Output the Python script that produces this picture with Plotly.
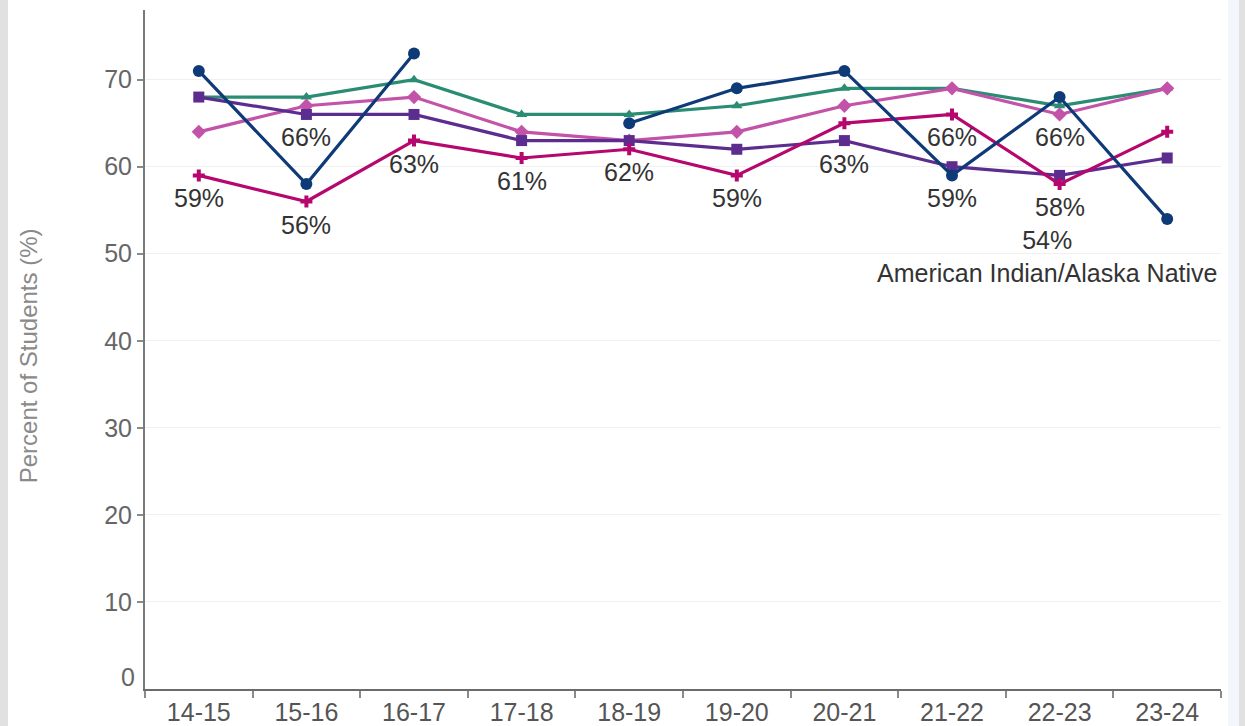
import plotly.graph_objects as go

years = ["14-15", "15-16", "16-17", "17-18", "18-19", "19-20", "20-21", "21-22", "22-23", "23-24"]

teal_vals = [68, 68, 70, 66, 66, 67, 69, 69, 67, 69]
pink_vals = [64, 67, 68, 64, 63, 64, 67, 69, 66, 69]
purple_vals = [68, 66, 66, 63, 63, 62, 63, 60, 59, 61]
magenta_vals = [59, 56, 63, 61, 62, 59, 65, 66, 58, 64]
navy_vals = [71, 58, 73, None, 65, 69, 71, 59, 68, 54]

y_ticks = [10, 20, 30, 40, 50, 60, 70]
y_title = "Percent of Students (%)"
navy_name = "American Indian/Alaska Native"

# data labels: (series key, category index)
label_points = [
    ("magenta", 0), ("purple", 1), ("magenta", 1), ("magenta", 2), ("magenta", 3),
    ("magenta", 4), ("magenta", 5), ("purple", 6), ("magenta", 7), ("navy", 7),
    ("pink", 8), ("magenta", 8),
]

series = {
    "teal": dict(vals=teal_vals, color="#2b8c74", symbol="triangle-up", size=10, name="Series A"),
    "pink": dict(vals=pink_vals, color="#c253a8", symbol="diamond", size=11, name="Series B"),
    "purple": dict(vals=purple_vals, color="#5c2d8f", symbol="square", size=11, name="Series C"),
    "magenta": dict(vals=magenta_vals, color="#b5076e", symbol="cross", size=10, name="Series D"),
    "navy": dict(vals=navy_vals, color="#0e3a78", symbol="circle", size=12, name=navy_name),
}

FONT = "Arial, Liberation Sans, sans-serif"
FS = 25
fig = go.Figure()
for key in ["teal", "pink", "purple", "magenta", "navy"]:
    s = series[key]
    fig.add_trace(go.Scatter(
        x=years, y=s["vals"], mode="lines+markers", name=s["name"],
        line=dict(color=s["color"], width=3.2),
        marker=dict(color=s["color"], symbol=s["symbol"], size=s["size"], line=dict(width=0)),
        connectgaps=False, showlegend=False,
    ))

annotations = []
for key, i in label_points:
    v = series[key]["vals"][i]
    annotations.append(dict(
        x=years[i], y=v, xref="x", yref="y", text=f"{v}%", showarrow=False,
        yshift=-23, yanchor="middle", xanchor="center",
        font=dict(family=FONT, size=FS, color="#333333"),
    ))

# last navy point with series name
last_v = navy_vals[-1]
annotations.append(dict(
    x=years[-1], y=last_v, xref="x", yref="y",
    text=f"{last_v}%<br>{navy_name}", showarrow=False, align="center",
    xanchor="right", xshift=52, yanchor="middle", yshift=-38,
    font=dict(family=FONT, size=FS, color="#333333"),
))

# zero label (drawn slightly above the axis line as in the original)
annotations.append(dict(
    x=0, y=0, xref="paper", yref="y", text="0", showarrow=False,
    xanchor="right", xshift=-8, yanchor="middle", yshift=12,
    font=dict(family=FONT, size=FS, color="#666666"),
))

# y-axis title
annotations.append(dict(
    x=(28 - 145) / 1076, y=0.49, xref="paper", yref="paper", text=y_title,
    textangle=-90, showarrow=False, xanchor="center", yanchor="middle",
    font=dict(family=FONT, size=FS - 1, color="#8a8a8a"),
))

shapes = [
    dict(type="rect", xref="paper", yref="paper", x0=-0.2, x1=(8 - 145) / 1076,
         y0=-0.2, y1=1.2, fillcolor="#e1e1e1", line=dict(width=0), layer="below"),
    dict(type="rect", xref="paper", yref="paper", x0=(1228 - 145) / 1076, x1=(1239 - 145) / 1076,
         y0=-0.2, y1=1.2, fillcolor="#f3f7fd", line=dict(width=0), layer="below"),
    dict(type="rect", xref="paper", yref="paper", x0=(1239 - 145) / 1076, x1=1.2,
         y0=-0.2, y1=1.2, fillcolor="#e1e1e1", line=dict(width=0), layer="below"),
]

fig.update_layout(
    width=1245, height=726,
    margin=dict(l=145, r=24, t=10, b=37, pad=0, autoexpand=False),
    paper_bgcolor="white", plot_bgcolor="white",
    annotations=annotations, shapes=shapes,
    xaxis=dict(
        type="category", categoryorder="array", categoryarray=years,
        tickson="boundaries", ticks="outside", ticklen=7, tickwidth=2, tickcolor="#8a8a8a",
        showline=True, linecolor="#6b6b6b", linewidth=2, showgrid=False,
        tickfont=dict(family=FONT, size=FS, color="#555555"),
        range=[-0.5, 9.5], zeroline=False, automargin=False,
    ),
    yaxis=dict(
        range=[0, 78], tickvals=y_ticks, ticks="outside", ticklen=6, tickwidth=2,
        tickcolor="#8a8a8a", showline=True, linecolor="#7a7a7a", linewidth=2,
        showgrid=True, gridcolor="#f0f0f0", gridwidth=1, zeroline=False,
        tickfont=dict(family=FONT, size=FS, color="#666666"), automargin=False,
    ),
)

fig.write_html(
    "out.html",
    config={"displayModeBar": False},
    post_script="document.body.style.margin='0';document.body.style.overflow='hidden';",
)
